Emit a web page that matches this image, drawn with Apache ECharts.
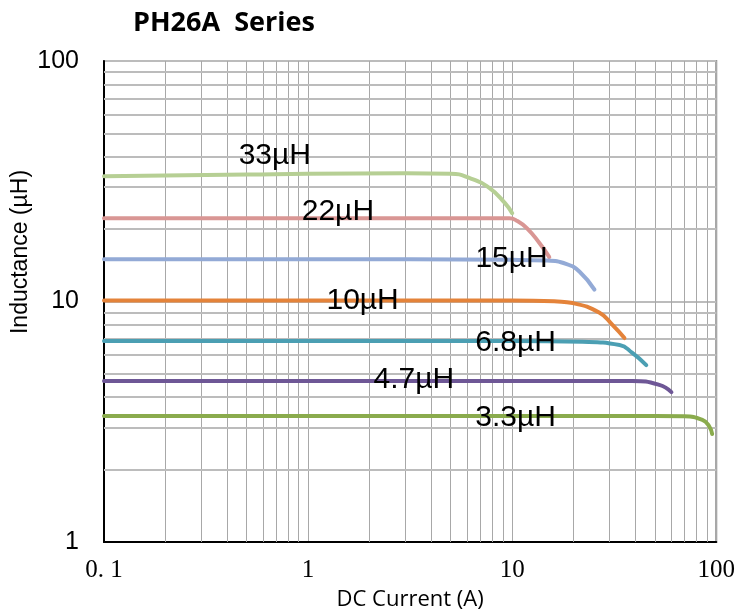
<!DOCTYPE html>
<html>
<head>
<meta charset="utf-8">
<script src="https://cdn.jsdelivr.net/npm/echarts@6/dist/echarts.min.js"></script>
<style>
  html, body { margin: 0; padding: 0; background: #fff; }
  #chart { width: 738px; height: 616px; }
</style>
</head>
<body>
<div id="chart"></div>
<script>
// tick labels
var xTickLabels = ['0. 1', '1', '10', '100'];
var yTickLabels = ['1', '10', '100'];

// minor grid positions (log decades 2..9)
var minorX = [0.2, 0.3, 0.4, 0.5, 0.6, 0.7, 0.8, 0.9, 2, 3, 4, 5, 6, 7, 8, 9, 20, 30, 40, 50, 60, 70, 80, 90];
var minorY = [2, 3, 4, 5, 6, 7, 8, 9, 20, 30, 40, 50, 60, 70, 80, 90];

// curves: DC current (A) vs inductance (uH)
var names = ['33µH', '22µH', '15µH', '10µH', '6.8µH', '4.7µH', '3.3µH'];
var colors = ['#b6cf94', '#d99694', '#93aad6', '#e4833a', '#4b9fb3', '#6e5796', '#8aab4d'];

var x33 = [0.1, 0.5, 1, 3, 5, 6.2, 7.75, 9.2, 10.0];
var y33 = [33.2, 33.7, 34.0, 34.1, 34.0, 32.6, 29.6, 25.7, 23.3];
var x22 = [0.1, 1, 5, 9.7, 10.6, 11.8, 13.6, 15.2];
var y22 = [22.2, 22.2, 22.2, 22.2, 21.6, 20.2, 17.5, 15.3];
var x15 = [0.1, 1, 10, 14.7, 18.5, 21.4, 25.3];
var y15 = [15.0, 15.0, 14.9, 14.8, 14.3, 13.3, 11.2];
var x10 = [0.1, 1, 10, 16.7, 19.8, 26.8, 31.0, 35.5];
var y10 = [10.1, 10.1, 10.1, 10.0, 9.85, 8.97, 7.99, 7.05];
var x68 = [0.1, 1, 10, 22.1, 33.6, 38.8, 45.4];
var y68 = [6.85, 6.85, 6.85, 6.8, 6.59, 6.11, 5.44];
var x47 = [0.1, 1, 10, 38.8, 52.6, 60.3];
var y47 = [4.67, 4.67, 4.67, 4.67, 4.5, 4.2];
var x33b = [0.1, 1, 10, 50, 69, 85.5, 92.5, 95.5];
var y33b = [3.34, 3.34, 3.34, 3.34, 3.33, 3.22, 3.02, 2.81];

var curvesX = [x33, x22, x15, x10, x68, x47, x33b];
var curvesY = [y33, y22, y15, y10, y68, y47, y33b];

// curve label positions (data coords)
var labelX = [0.687, 1.40, 9.93, 1.85, 10.4, 3.30, 10.4];
var labelY = [40.5, 23.6, 15.0, 10.05, 6.72, 4.72, 3.28];

function zip(a, b) {
    var out = [];
    for (var i = 0; i < a.length; i++) out.push([a[i], b[i]]);
    return out;
}

var dom = document.getElementById('chart');
var myChart = echarts.init(dom, null, { renderer: 'canvas' });

var series = [];

// minor grid lines drawn through the axes' own scales
var gridLines = [];
for (var i = 0; i < minorX.length; i++) gridLines.push({ xAxis: minorX[i], lineStyle: { color: '#a8a8a8', width: 1, type: 'solid' } });
for (var j = 0; j < minorY.length; j++) gridLines.push({ yAxis: minorY[j], lineStyle: { color: '#bcbcbc', width: 2, type: 'solid' } });
series.push({
    type: 'line',
    data: [],
    silent: true,
    markLine: {
        silent: true,
        symbol: ['none', 'none'],
        label: { show: false },
        z: 1,
        animation: false,
        data: gridLines
    }
});

for (var k = 0; k < names.length; k++) {
    series.push({
        name: names[k],
        type: 'line',
        data: zip(curvesX[k], curvesY[k]),
        showSymbol: false,
        smooth: 0.5,
        z: 3,
        lineStyle: { color: colors[k], width: 4, cap: 'round', join: 'round' }
    });
}

var labelData = [];
for (var m = 0; m < names.length; m++) labelData.push([labelX[m], labelY[m], names[m]]);
series.push({
    type: 'scatter',
    data: labelData,
    symbolSize: 0,
    z: 10,
    silent: true,
    itemStyle: { opacity: 1 },
    label: {
        show: true,
        position: 'inside',
        formatter: function (p) { return p.value[2]; },
        fontFamily: 'Liberation Sans',
        fontSize: 30,
        color: '#000',
        textBorderWidth: 0
    }
});

var option = {
    animation: false,
    backgroundColor: '#fff',
    title: {
        text: 'PH26A  Series',
        left: 128,
        top: 5,
        textStyle: { fontFamily: 'Open Sans', fontWeight: 'bold', fontSize: 27, color: '#000' }
    },
    grid: {
        left: 104, right: 21, top: 61, bottom: 74,
        show: true,
        borderColor: '#8a8a8a',
        borderWidth: 2,
        backgroundColor: 'transparent'
    },
    xAxis: {
        type: 'log',
        logBase: 10,
        min: 0.1,
        max: 100,
        name: 'DC Current (A)',
        nameLocation: 'middle',
        nameGap: 47,
        nameTextStyle: { fontFamily: 'Open Sans', fontSize: 22, color: '#000' },
        axisLine: { show: true, lineStyle: { color: '#000', width: 2 } },
        axisTick: { show: false },
        axisLabel: {
            margin: 16,
            fontFamily: 'Liberation Serif',
            fontSize: 25,
            color: '#000',
            formatter: function (v, idx) { return xTickLabels[idx]; }
        },
        splitLine: { show: true, lineStyle: { color: '#a8a8a8', width: 1 } }
    },
    yAxis: {
        type: 'log',
        logBase: 10,
        min: 1,
        max: 100,
        axisLine: { show: true, lineStyle: { color: '#000', width: 2 } },
        axisTick: { show: false },
        axisLabel: {
            margin: 25,
            fontFamily: 'Liberation Sans',
            fontSize: 25,
            color: '#000',
            formatter: function (v, idx) { return yTickLabels[idx]; }
        },
        splitLine: { show: true, lineStyle: { color: '#bcbcbc', width: 2 } }
    },
    graphic: [{
        type: 'text',
        x: 21,
        y: 252,
        rotation: Math.PI / 2,
        style: {
            text: 'Inductance (µH)',
            fontFamily: 'Liberation Sans',
            fontSize: 23,
            fill: '#000',
            align: 'center',
            verticalAlign: 'middle'
        }
    }],
    series: series
};

myChart.setOption(option);
</script>
</body>
</html>
